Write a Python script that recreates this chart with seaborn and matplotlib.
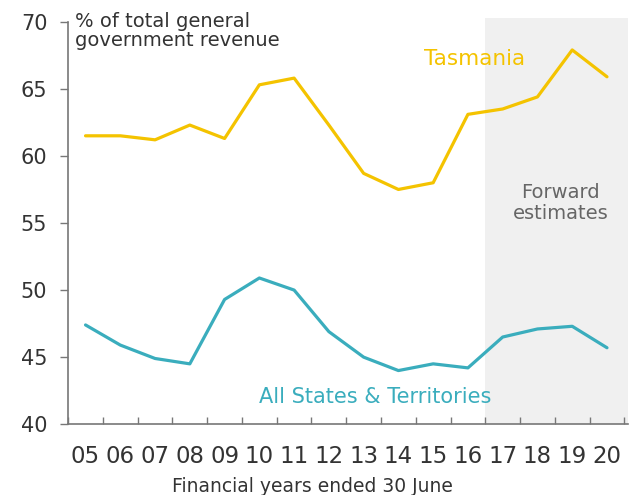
import matplotlib
matplotlib.use("Agg")
import matplotlib.pyplot as plt
import seaborn as sns
import pandas as pd

years = ["05", "06", "07", "08", "09", "10", "11", "12",
         "13", "14", "15", "16", "17", "18", "19", "20"]
tasmania = [61.5, 61.5, 61.2, 62.3, 61.3, 65.3, 65.8, 62.3,
            58.7, 57.5, 58.0, 63.1, 63.5, 64.4, 67.9, 65.9]
all_states = [47.4, 45.9, 44.9, 44.5, 49.3, 50.9, 50.0, 46.9,
              45.0, 44.0, 44.5, 44.2, 46.5, 47.1, 47.3, 45.7]
yticks = [40, 45, 50, 55, 60, 65, 70]

sns.set_style("white")
plt.rcParams["font.family"] = ["DejaVu Sans"]

gold = "#F4C300"
teal = "#3AADBD"

df = pd.DataFrame({
    "year": years * 2,
    "value": tasmania + all_states,
    "series": ["Tasmania"] * len(years) + ["All States & Territories"] * len(years),
})
df["x"] = list(range(len(years))) * 2

fig = plt.figure(figsize=(6.31, 4.95), dpi=100)
ax = fig.add_axes([0.108, 0.143, 0.887, 0.813])

# forward estimates shading
ax.axvspan(11.5, 15.6, ymin=0, ymax=1.01, color="#F0F0F0", zorder=0, lw=0, clip_on=False)

sns.lineplot(data=df, x="x", y="value", hue="series",
             palette={"Tasmania": gold, "All States & Territories": teal},
             linewidth=2.3, legend=False, ax=ax)

ax.set_xlim(-0.5, 15.6)
ax.set_ylim(40, 70)
ax.set_yticks(yticks)
ax.set_xticks(range(len(years)))
ax.set_xticklabels(years)
ax.set_xticks([i + 0.5 for i in range(-1, len(years))], minor=True)
ax.tick_params(axis="x", which="major", bottom=True, length=0, pad=15,
               labelsize=16.5, colors="#333333")
ax.tick_params(axis="x", which="minor", bottom=True, direction="in", length=5,
               width=1, color="#777777")
ax.tick_params(axis="y", which="major", left=True, direction="out", length=6, width=1,
               color="#777777", labelsize=15, labelcolor="#333333", pad=9)
ax.set_xlabel("Financial years ended 30 June", fontsize=13.5, color="#333333")
ax.xaxis.set_label_coords(0.436, -0.13)
ax.set_ylabel("")

for side in ["top", "right"]:
    ax.spines[side].set_visible(False)
for side in ["left", "bottom"]:
    ax.spines[side].set_color("#777777")
    ax.spines[side].set_linewidth(1.2)

ax.text(0.012, 1.025, "% of total general\ngovernment revenue", transform=ax.transAxes,
        ha="left", va="top", fontsize=14, color="#333333", linespacing=1.0)
ax.text(11.2, 67.2, "Tasmania", ha="center", va="center", fontsize=15.5, color=gold)
ax.text(8.34, 42.0, "All States & Territories", ha="center", va="center", fontsize=15, color=teal)
ax.text(13.66, 56.5, "Forward\nestimates", ha="center", va="center", fontsize=14,
        color="#666666", linespacing=1.1)

fig.savefig("out.png", dpi=100)
